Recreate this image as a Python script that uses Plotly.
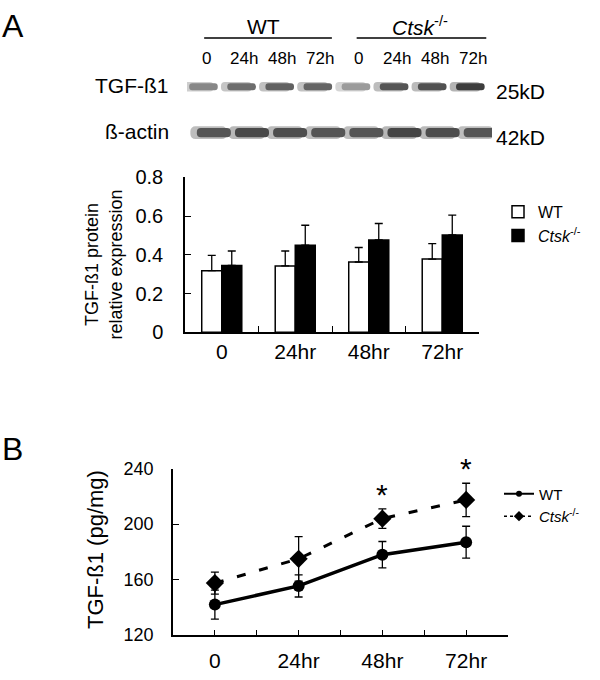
import plotly.graph_objects as go

# ---------------- data ----------------
timepoints = ["0", "24hr", "48hr", "72hr"]

# Panel A bar chart (relative expression)
bar_wt = [0.318, 0.343, 0.363, 0.378]
bar_wt_err = [0.079, 0.077, 0.075, 0.080]
bar_ko = [0.345, 0.450, 0.477, 0.503]
bar_ko_err = [0.075, 0.103, 0.085, 0.102]

# Panel B line chart (pg/mg)
line_x = [0, 1, 2, 3]
line_wt = [142, 155.5, 178, 187]
line_wt_err = [10.5, 8, 9.5, 11.5]
line_ko = [157.5, 175, 204, 217.5]
line_ko_err = [8, 16, 7, 12]
sig_idx = [2, 3]

# Western blot
lane_labels = ["0", "24h", "48h", "72h", "0", "24h", "48h", "72h"]
lanes = list(range(8))
tgf_intensity = [0.55, 0.68, 0.74, 0.72, 0.45, 0.80, 0.82, 0.92]
actin_intensity = [0.80, 0.86, 0.84, 0.80, 0.80, 0.88, 0.84, 0.80]
blot_rows = ["TGF-ß1", "ß-actin"]
blot_sizes = ["25kD", "42kD"]

FONT = "Arial, 'Liberation Sans', sans-serif"


def px(x):
    return x / 600


def py(y):
    return 1 - y / 680


def gray(v, base=245, span=200):
    g = int(base - span * v)
    return f"rgb({g},{g},{g})"


fig = go.Figure()

# ---------------- blot ----------------
for row, inten, w, h in [(0, tgf_intensity, 0.78, 0.15), (1, actin_intensity, 0.93, 0.20)]:
    fig.add_trace(go.Bar(
        x=lanes, y=[h * 1.4] * 8, base=[row - h * 0.7] * 8, width=w + 0.03,
        marker=dict(color=[gray(v * 0.35) for v in inten], line=dict(width=0), cornerradius=5),
        xaxis="x3", yaxis="y3", showlegend=False, hoverinfo="skip"))
    fig.add_trace(go.Bar(
        x=lanes, y=[h] * 8, base=[row - h / 2] * 8, width=w * 0.96,
        marker=dict(color=[gray(v) for v in inten], line=dict(width=0), cornerradius=4),
        xaxis="x3", yaxis="y3", showlegend=False, hoverinfo="skip"))

# ---------------- bar chart ----------------
fig.add_trace(go.Bar(
    x=timepoints, y=bar_wt, name="WT",
    marker=dict(color="white", line=dict(color="black", width=1.5)),
    error_y=dict(type="data", array=bar_wt_err, arrayminus=[0] * 4, symmetric=False,
                 color="black", thickness=1.3, width=4),
    xaxis="x", yaxis="y", legend="legend2"))
fig.add_trace(go.Bar(
    x=timepoints, y=bar_ko, name="<i>Ctsk</i><sup>-/-</sup>",
    marker=dict(color="black", line=dict(color="black", width=1.5)),
    error_y=dict(type="data", array=bar_ko_err, arrayminus=[0] * 4, symmetric=False,
                 color="black", thickness=1.3, width=4),
    xaxis="x", yaxis="y", legend="legend2"))

# ---------------- line chart ----------------
fig.add_trace(go.Scatter(
    x=line_x, y=line_wt, name="WT", mode="lines+markers",
    line=dict(color="black", width=3.5),
    marker=dict(symbol="circle", size=12, color="black"),
    error_y=dict(type="data", array=line_wt_err, color="black", thickness=1.3, width=4),
    xaxis="x2", yaxis="y2", showlegend=False))
fig.add_trace(go.Scatter(
    x=line_x, y=line_ko, name="<i>Ctsk</i><sup>-/-</sup>", mode="lines+markers",
    line=dict(color="black", width=3, dash="9px,14px"),
    marker=dict(symbol="diamond", size=14, color="black"),
    error_y=dict(type="data", array=line_ko_err, color="black", thickness=1.3, width=4),
    xaxis="x2", yaxis="y2", showlegend=False))
# legend-only entries (thin line styles as in the key)
fig.add_trace(go.Scatter(
    x=[None], y=[None], name="WT", mode="lines+markers",
    line=dict(color="black", width=2), marker=dict(symbol="circle", size=6, color="black"),
    xaxis="x2", yaxis="y2", legend="legend"))
fig.add_trace(go.Scatter(
    x=[None], y=[None], name="<i>Ctsk</i><sup>-/-</sup>", mode="lines+markers",
    line=dict(color="black", width=1.5, dash="dot"), marker=dict(symbol="diamond", size=8, color="black"),
    xaxis="x2", yaxis="y2", legend="legend"))

annotations = []
# significance stars
for i in sig_idx:
    annotations.append(dict(x=line_x[i], y=line_ko[i] + line_ko_err[i], xref="x2", yref="y2",
                            text="*", showarrow=False, yanchor="bottom", yshift=-4,
                            font=dict(size=30, family=FONT, color="black")))

# panel letters
annotations.append(dict(x=px(0), y=py(15), xref="paper", yref="paper", text="A", showarrow=False,
                        xanchor="left", yanchor="middle", font=dict(size=32, family=FONT, color="black")))
annotations.append(dict(x=px(0), y=py(453), xref="paper", yref="paper", text="B", showarrow=False,
                        xanchor="left", yanchor="middle", font=dict(size=32, family=FONT, color="black")))

# blot headers
annotations.append(dict(x=1.5, y=py(16), xref="x3", yref="paper", text="WT", showarrow=False,
                        xanchor="center", yanchor="middle", font=dict(size=21, family=FONT, color="black")))
annotations.append(dict(x=5.6, y=py(16), xref="x3", yref="paper", text="<i>Ctsk</i><sup>-/-</sup>",
                        showarrow=False, xanchor="center", yanchor="middle",
                        font=dict(size=21, family=FONT, color="black")))
for i, lab in zip(lanes, lane_labels):
    annotations.append(dict(x=i, y=py(49), xref="x3", yref="paper", text=lab, showarrow=False,
                            xanchor="center", yanchor="middle", font=dict(size=17, family=FONT, color="black")))
for r, lab in enumerate(blot_rows):
    annotations.append(dict(x=px(171), y=r, xref="paper", yref="y3", text=lab, showarrow=False,
                            xanchor="right", yanchor="middle", yshift=1,
                            font=dict(size=21, family=FONT, color="black")))
for r, lab in enumerate(blot_sizes):
    annotations.append(dict(x=px(494), y=r, xref="paper", yref="y3", text=lab, showarrow=False,
                            xanchor="left", yanchor="middle", yshift=-5,
                            font=dict(size=21, family=FONT, color="black")))

# axis titles
annotations.append(dict(x=px(104), y=py(262), xref="paper", yref="paper",
                        text="TGF-ß1 protein<br>relative expression", showarrow=False, textangle=-90,
                        xanchor="center", yanchor="middle",
                        font=dict(size=18, family=FONT, color="black")))
annotations.append(dict(x=px(96), y=py(557), xref="paper", yref="paper",
                        text="TGF-ß1 (pg/mg)", showarrow=False, textangle=-90,
                        xanchor="center", yanchor="middle",
                        font=dict(size=22, family=FONT, color="black")))

shapes = [
    dict(type="line", xref="x3", yref="paper", x0=-0.05, x1=3.3, y0=py(28), y1=py(28),
         line=dict(color="black", width=1.5)),
    dict(type="line", xref="x3", yref="paper", x0=3.95, x1=7.35, y0=py(28), y1=py(28),
         line=dict(color="black", width=1.5)),
]

axis_common = dict(showline=True, linecolor="black", linewidth=1.5, ticks="inside",
                   tickcolor="black", tickwidth=1.3, showgrid=False, zeroline=False,
                   tickfont=dict(size=21, family=FONT, color="black"))

fig.update_layout(
    width=600, height=680, margin=dict(l=0, r=0, t=0, b=0),
    paper_bgcolor="white", plot_bgcolor="white",
    barmode="group", bargap=0.455, bargroupgap=0,
    font=dict(family=FONT, color="black"),
    annotations=annotations, shapes=shapes,
    xaxis=dict(domain=[px(185), px(479)], anchor="y", type="category", tickson="boundaries",
               ticklen=7, ticklabelstandoff=0, **axis_common),
    yaxis=dict(domain=[py(332), py(172)], anchor="x", range=[0, 0.8], dtick=0.2, ticklen=6,
               tickformat="", ticklabelstandoff=16,
               **{**axis_common, "tickfont": dict(size=20, family=FONT, color="black")}),
    xaxis2=dict(domain=[px(173), px(508)], anchor="y2", range=[-0.5, 3.5],
                tickvals=[-0.5, 0, 0.5, 1, 1.5, 2, 2.5, 3, 3.5],
                ticktext=["", timepoints[0], "", timepoints[1], "", timepoints[2], "", timepoints[3], ""],
                ticklen=5, ticklabelstandoff=6, **axis_common),
    yaxis2=dict(domain=[py(645), py(473)], anchor="x2", range=[120, 240], dtick=40, ticklen=6,
                ticklabelstandoff=14,
                **{**axis_common, "tickfont": dict(size=18, family=FONT, color="black")}),
    xaxis3=dict(domain=[px(187), px(492)], anchor="y3", range=[-0.5, 7.5], visible=False),
    yaxis3=dict(domain=[py(149.5), py(54.5)], anchor="x3", range=[1.5, -0.5], visible=False),
    legend=dict(x=px(499), y=py(482), xanchor="left", yanchor="top", bgcolor="rgba(0,0,0,0)",
                font=dict(size=15, family=FONT, color="black"), tracegroupgap=0,
                itemwidth=30),
    legend2=dict(x=px(498), y=py(190), xanchor="left", yanchor="top", bgcolor="rgba(0,0,0,0)",
                 font=dict(size=16, family=FONT, color="black"), itemwidth=30),
)

fig.write_html("out.html", config={"displayModeBar": False},
               post_script="document.body.style.margin='0';")
